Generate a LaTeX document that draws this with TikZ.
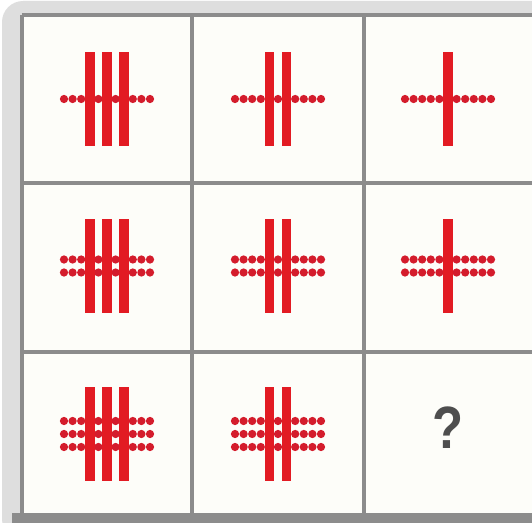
\documentclass[tikz,border=0pt]{standalone}
\usepackage{fontspec}
\newfontfamily\qfont{Liberation Sans}
\definecolor{framegrey}{RGB}{222,222,222}
\definecolor{gridgrey}{RGB}{140,140,140}
\definecolor{cellwhite}{RGB}{253,253,249}
\definecolor{barred}{RGB}{226,27,35}
\definecolor{dotred}{RGB}{212,28,44}
\definecolor{qgrey}{RGB}{78,78,78}
% one figure: centre x, centre y, bar positions, rows of dots
\newcommand{\tallyfig}[4]{%
  \foreach \r in {1,...,#4}
    \foreach \k in {-5,...,5}
      \fill[dotred] ({#1+\k*8.6},{#2+(\r-(#4+1)/2)*13}) circle (2.35pt);
  \foreach \b in {#3}
    \fill[barred] ({#1+\b*8.6-4.8},{#2-47}) rectangle ({#1+\b*8.6+4.8},{#2+47});
}
\begin{document}
\begin{tikzpicture}[x=0.02cm, y=-0.02cm,
    gridline/.style={gridgrey, line width=2.2pt},
    qmark/.style={font=\qfont\bfseries\fontsize{34}{34}\selectfont, text=qgrey, xscale=0.85}]
    \useasboundingbox (0,0) rectangle (532,523);
    \fill[white] (0,0) rectangle (532,523);
    % frame and cells
    \fill[framegrey, rounded corners=12] (2,1) rectangle (560,540);
    \fill[cellwhite] (22,15) rectangle (560,515);
    \draw[gridline] (22,15) -- (540,15);
    \draw[gridline] (22,15) -- (22,517);
    \draw[gridline] (192,15) -- (192,517);
    \draw[gridline] (364,15) -- (364,517);
    \draw[gridline] (22,183) -- (540,183);
    \draw[gridline] (22,352) -- (540,352);
    \fill[gridgrey] (12,513) rectangle (540,523);
    % figures
    \tallyfig{107}{99}{-2,0,2}{1}
    \tallyfig{278}{99}{-1,1}{1}
    \tallyfig{448}{99}{0}{1}
    \tallyfig{107}{266}{-2,0,2}{2}
    \tallyfig{278}{266}{-1,1}{2}
    \tallyfig{448}{266}{0}{2}
    \tallyfig{107}{434}{-2,0,2}{3}
    \tallyfig{278}{434}{-1,1}{3}
    \node[qmark] (ask) at (448.5,428) {?};
\end{tikzpicture}
\end{document}
